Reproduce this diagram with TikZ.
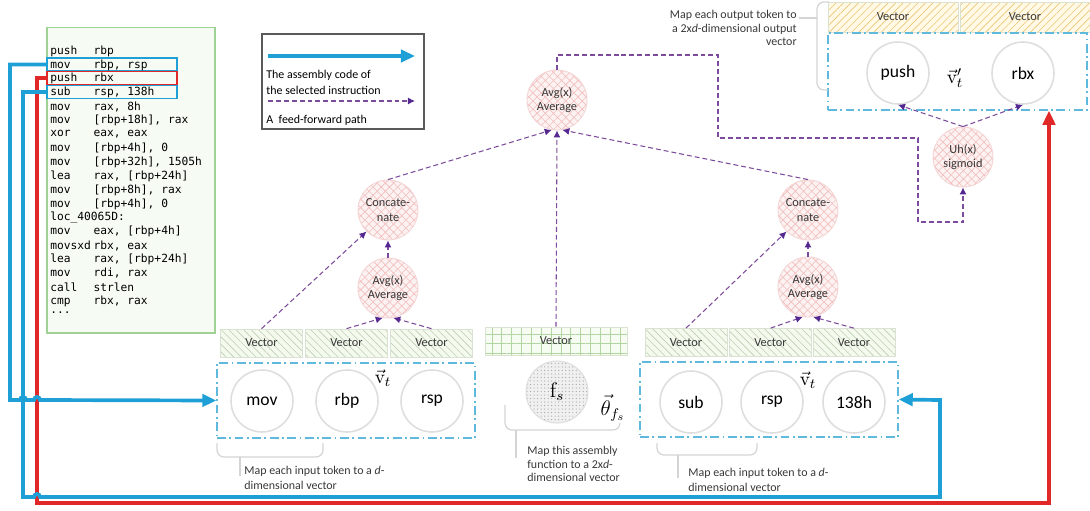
\documentclass[tikz,border=0pt]{standalone}
\usepackage[no-math]{fontspec}
\setmainfont{Carlito}
\setmonofont{DejaVu Sans Mono}
\usetikzlibrary{patterns.meta,arrows.meta}

\definecolor{selblue}{RGB}{30,160,215}
\definecolor{selred}{RGB}{225,40,40}
\definecolor{ffpurple}{RGB}{125,75,155}
\definecolor{fftip}{RGB}{85,40,145}
\definecolor{codegreen}{RGB}{160,210,150}
\definecolor{codebg}{RGB}{246,251,244}
\definecolor{tokgray}{RGB}{222,222,222}
\definecolor{funcbg}{RGB}{253,242,242}
\definecolor{funcline}{RGB}{242,190,190}
\definecolor{funcborder}{RGB}{244,212,212}
\definecolor{vecborder}{RGB}{218,226,210}
\definecolor{vecgreen}{RGB}{190,206,180}
\definecolor{vecgreenbg}{RGB}{245,250,238}
\definecolor{vecorange}{RGB}{236,198,120}
\definecolor{vecorangebg}{RGB}{255,249,230}
\definecolor{gridgreen}{RGB}{178,214,162}
\definecolor{gridbg}{RGB}{246,252,241}
\definecolor{dashblue}{RGB}{95,185,220}
\definecolor{bracegray}{RGB}{212,212,212}
\definecolor{legendgray}{RGB}{90,90,90}
\definecolor{txtgray}{RGB}{55,55,55}

\newcommand{\asmline}[2]{\makebox[24.6pt][l]{#1}#2}

\tikzset{
  codebox/.style={draw=codegreen, fill=codebg, line width=0.6pt, minimum width=3.36cm, minimum height=6.12cm, inner sep=0},
  codetxt/.style={anchor=west, inner sep=0, font=\ttfamily\fontsize{6.4}{7}\selectfont},
  selbox/.style={draw=#1, line width=0.8pt, minimum width=2.6cm, minimum height=0.26cm, inner sep=0},
  legendbox/.style={draw=legendgray, line width=0.7pt, minimum width=3.24cm, minimum height=1.9cm, inner sep=0},
  dashbox/.style={draw=dashblue, line width=0.8pt, dash pattern=on 5pt off 2pt on 1pt off 2pt, minimum width=5.16cm, minimum height=1.5cm, inner sep=0},
  token/.style={circle, draw=tokgray, line width=0.9pt, fill=white, minimum size=1.24cm, inner sep=0, font=\fontsize{10}{12}\selectfont},
  func/.style={circle, draw=funcborder, line width=0.5pt, preaction={fill=funcbg}, pattern={Hatch[angle=45,distance=3.3pt,line width=0.35pt]}, pattern color=funcline, minimum size=1.2cm, inner sep=0, align=center, text=txtgray, font=\fontsize{7}{8.4}\selectfont},
  fsnode/.style={circle, draw=tokgray, line width=0.6pt, preaction={fill=black!6}, pattern={Dots[distance=2pt,radius=0.35pt]}, pattern color=black!35, minimum size=1.24cm, inner sep=0, font=\fontsize{12}{14}\selectfont},
  vecin/.style={draw=vecborder, line width=0.4pt, preaction={fill=vecgreenbg}, pattern={Lines[angle=-45,distance=3pt,line width=0.35pt]}, pattern color=vecgreen, minimum width=1.64cm, minimum height=0.56cm, inner sep=0, text=txtgray, font=\fontsize{7}{8}\selectfont},
  vecout/.style={draw=vecborder, line width=0.4pt, preaction={fill=vecorangebg}, pattern={Lines[angle=45,distance=3pt,line width=0.35pt]}, pattern color=vecorange, minimum width=2.6cm, minimum height=0.6cm, inner sep=0, text=txtgray, font=\fontsize{7}{8}\selectfont},
  vecgrid/.style={draw=vecborder, line width=0.4pt, preaction={fill=gridbg}, pattern={Hatch[angle=0,distance=5.6pt,line width=0.35pt]}, pattern color=gridgreen, minimum width=2.84cm, minimum height=0.56cm, inner sep=0, text=txtgray, font=\fontsize{7}{8}\selectfont},
  vlabel/.style={inner sep=0, font=\fontsize{11}{13}\selectfont},
  desc/.style={anchor=west, align=left, inner sep=0, text=txtgray, font=\fontsize{6.8}{8.6}\selectfont},
  bracep/.style={draw=bracegray, line width=0.7pt, rounded corners=4pt},
  selpath/.style={line width=2.1pt, -{Triangle[length=8pt,width=7pt]}},
  ffpath/.style={draw=ffpurple, line width=0.6pt, dash pattern=on 2.8pt off 1.7pt, -{Latex[length=4pt,width=4pt,color=fftip]}},
}

\begin{document}
\begin{tikzpicture}[x=0.02cm,y=-0.02cm]
      \useasboundingbox (0,0) rectangle (1090,511);

      % code assembleur
      \node[codebox] (code) at (131,180) {};
      \node[selbox=selblue] (hlmov) at (112,64.5) {};
      \node[selbox=selred] (hlpush) at (112,78) {};
      \node[selbox=selblue] (hlsub) at (112,92) {};
      \node[codetxt] (l1) at (50,51) {\asmline{push}{rbp}};
      \node[codetxt] (l2) at (50,64.9) {\asmline{mov}{rbp, rsp}};
      \node[codetxt] (l3) at (50,78.8) {\asmline{push}{rbx}};
      \node[codetxt] (l4) at (50,92.7) {\asmline{sub}{rsp, 138h}};
      \node[codetxt] (l5) at (50,106.6) {\asmline{mov}{rax, 8h}};
      \node[codetxt] (l6) at (50,120.5) {\asmline{mov}{[rbp+18h], rax}};
      \node[codetxt] (l7) at (50,134.4) {\asmline{xor}{eax, eax}};
      \node[codetxt] (l8) at (50,148.3) {\asmline{mov}{[rbp+4h], 0}};
      \node[codetxt] (l9) at (50,162.2) {\asmline{mov}{[rbp+32h], 1505h}};
      \node[codetxt] (l10) at (50,176.1) {\asmline{lea}{rax, [rbp+24h]}};
      \node[codetxt] (l11) at (50,190) {\asmline{mov}{[rbp+8h], rax}};
      \node[codetxt] (l12) at (50,203.9) {\asmline{mov}{[rbp+4h], 0}};
      \node[codetxt] (l13) at (50,217.8) {loc\_40065D:};
      \node[codetxt] (l14) at (50,231.7) {\asmline{mov}{eax, [rbp+4h]}};
      \node[codetxt] (l15) at (50,245.6) {\asmline{movsxd}{rbx, eax}};
      \node[codetxt] (l16) at (50,259.5) {\asmline{lea}{rax, [rbp+24h]}};
      \node[codetxt] (l17) at (50,273.4) {\asmline{mov}{rdi, rax}};
      \node[codetxt] (l18) at (50,287.3) {\asmline{call}{strlen}};
      \node[codetxt] (l19) at (50,301.2) {\asmline{cmp}{rbx, rax}};
      \node[codetxt] (l20) at (50,313) {...};

      % legende
      \node[legendbox] (legend) at (343,81.5) {};
      \coordinate (lga) at (268,56);
      \coordinate (lgb) at (415,56);
      \coordinate (lgc) at (268,101);
      \coordinate (lgd) at (415,101);
      \draw[selpath, selblue] (lga) -- (lgb);
      \draw[ffpath] (lgc) -- (lgd);
      \node[desc, text=black, font=\fontsize{6.8}{9}\selectfont] (lgt1) at (266,82) {The assembly code of\\the selected instruction};
      \node[desc, text=black] (lgt2) at (266,120) {A~ feed-forward path};

      % jetons d'entree (gauche)
      \node[vecin] (vl1) at (261.5,343) {Vector};
      \node[vecin] (vl2) at (346.5,343) {Vector};
      \node[vecin] (vl3) at (431.5,343) {Vector};
      \node[dashbox] (inl) at (346,400.5) {};
      \node[token] (mov) at (262,401) {mov};
      \node[token] (rbp) at (347,401) {rbp};
      \node[token] (rsp) at (432,401) {rsp};
      \node[vlabel] (vtl) at (383,378) {$\vec{\mathrm{v}}_t$};
      \node[func] (avgl) at (388,288) {Avg(x)\\Average};
      \node[func] (concl) at (388,210) {Concate-\\nate};
      \draw[bracep] (217,443) |- (323,457) -- (323,443);
      \draw[bracep] (240,457) -- (240,476);
      \node[desc, font=\fontsize{6.8}{8.9}\selectfont] (dl) at (244,478) {Map each input token to a \textit{d}-\\dimensional vector};

      % fonction (centre)
      \node[vecgrid] (vgrid) at (556,341) {Vector};
      \node[fsnode] (fs) at (557,392) {$\mathrm{f}_s$};
      \node[vlabel, font=\fontsize{12}{14}\selectfont] (theta) at (613,408) {$\vec{\theta}_{f_s}$};
      \node[func] (avgc) at (557,100) {Avg(x)\\Average};
      \draw[bracep] (505,405) |- (620,430) -- (620,424);
      \draw[bracep] (516,430) -- (516,458);
      \node[desc, font=\fontsize{6.8}{7.9}\selectfont] (dc) at (527,464) {Map this assembly\\function to a 2x\textit{d}-\\dimensional vector};

      % jetons d'entree (droite)
      \node[vecin] (vr1) at (686,342.5) {Vector};
      \node[vecin] (vr2) at (770.5,342.5) {Vector};
      \node[vecin] (vr3) at (854,342.5) {Vector};
      \node[dashbox] (inr) at (769,399.5) {};
      \node[token] (sub) at (691,402) {sub};
      \node[token] (rsp2) at (772,402) {rsp};
      \node[token] (hex) at (854,402) {138h};
      \node[vlabel] (vtr) at (808,380) {$\vec{\mathrm{v}}_t$};
      \node[func] (avgr) at (808,287) {Avg(x)\\Average};
      \node[func] (concr) at (808,210) {Concate-\\nate};
      \draw[bracep] (657,443) |- (757,455) -- (757,443);
      \draw[bracep] (678,455) -- (678,478);
      \node[desc, font=\fontsize{6.8}{8.5}\selectfont] (dr) at (688,480) {Map each input token to a \textit{d}-\\dimensional vector};

      % jetons de sortie
      \node[func] (uh) at (963,157) {Uh(x)\\sigmoid};
      \node[vecout] (vo1) at (893,17) {Vector};
      \node[vecout] (vo2) at (1025,17) {Vector};
      \node[dashbox, minimum width=5.18cm, minimum height=1.54cm] (outb) at (957.5,71.5) {};
      \node[token] (push) at (898,73) {push};
      \node[token] (rbx) at (1023,73) {rbx};
      \node[vlabel] (vto) at (955,78) {$\vec{\mathrm{v}}'_t$};
      \draw[bracep] (829,2) -| (817,90) -- (828,90);
      \draw[bracep] (817,18) -- (799,18);
      \node[desc, anchor=east, align=right, font=\fontsize{6.8}{7.7}\selectfont] (dout) at (797,28) {Map each output token to\\a 2x\textit{d}-dimensional output\\vector};

      % chemins feed-forward
      \draw[ffpath] (vl1.north) -- (concl.south west);
      \draw[ffpath] (vl2.north) -- (avgl.-100);
      \draw[ffpath] (vl3.north) -- (avgl.-80);
      \draw[ffpath] (avgl.north) -- (concl.south);
      \draw[ffpath] (vr1.north) -- (concr.south west);
      \draw[ffpath] (vr2.north) -- (avgr.-100);
      \draw[ffpath] (vr3.north) -- (avgr.-80);
      \draw[ffpath] (avgr.north) -- (concr.south);
      \draw[ffpath] (concl.north) -- (avgc.-100);
      \draw[ffpath] (concr.north) -- (avgc.-80);
      \draw[ffpath] (vgrid.north) -- (avgc.south);
      \coordinate (p1) at (718,55);
      \coordinate (p2) at (918,138);
      \coordinate (p3) at (963,222);
      \draw[ffpath] (avgc.north) |- (p1) |- (p2) |- (p3) -- (uh.south);
      \draw[ffpath] (uh.north) -- (push.south);
      \draw[ffpath] (uh.north) -- (rbx.south);

      % instructions selectionnees
      \coordinate (c1) at (10,400);
      \coordinate (c2a) at (23,497);
      \coordinate (c2b) at (940,400);
      \coordinate (c3a) at (37,503);
      \coordinate (c3b) at (1049,0);
      \draw[selpath, selred] (hlpush.west) -| (c3a) -| (outb.south -| c3b);
      \draw[selpath, selblue] (hlsub.west) -| (c2a) -- ++(11,0) arc[start angle=180, end angle=360, radius=3] -| (c2b) -- (inr.east);
      \draw[selpath, selblue] (hlmov.west) -| (c1) -- ++(10,0) arc[start angle=180, end angle=360, radius=3] -- ++(8,0) arc[start angle=180, end angle=360, radius=3] -- (inl.west);
\end{tikzpicture}
\end{document}
